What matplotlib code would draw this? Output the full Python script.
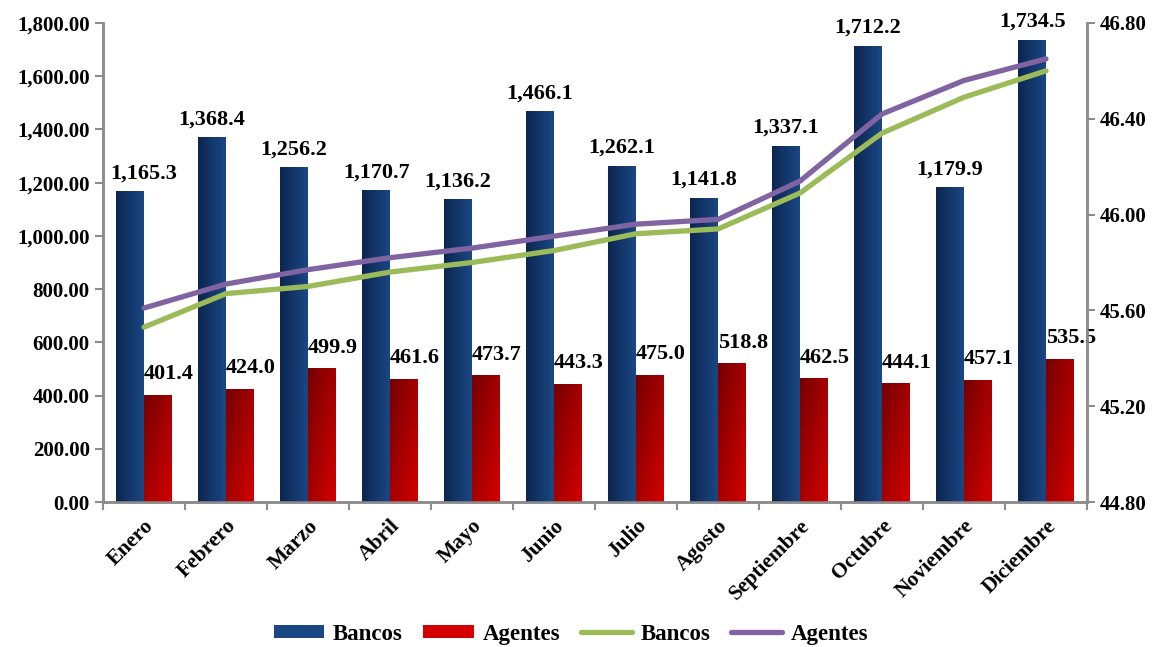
import numpy as np
import matplotlib
matplotlib.use('Agg')
import matplotlib.pyplot as plt
from matplotlib.lines import Line2D
from matplotlib.patches import Patch
from matplotlib.ticker import FuncFormatter

plt.rcParams['font.family'] = ['Liberation Serif', 'DejaVu Serif']
plt.rcParams['font.weight'] = 'bold'

meses = ['Enero', 'Febrero', 'Marzo', 'Abril', 'Mayo', 'Junio', 'Julio',
         'Agosto', 'Septiembre', 'Octubre', 'Noviembre', 'Diciembre']
bancos_barras = [1165.3, 1368.4, 1256.2, 1170.7, 1136.2, 1466.1, 1262.1,
                 1141.8, 1337.1, 1712.2, 1179.9, 1734.5]
agentes_barras = [401.4, 424.0, 499.9, 461.6, 473.7, 443.3, 475.0,
                  518.8, 462.5, 444.1, 457.1, 535.5]
# eje secundario (lineas)
bancos_linea = [45.53, 45.67, 45.70, 45.76, 45.80, 45.85, 45.92,
                45.94, 46.09, 46.34, 46.49, 46.60]
agentes_linea = [45.61, 45.71, 45.77, 45.82, 45.86, 45.91, 45.96,
                 45.98, 46.14, 46.42, 46.56, 46.65]

AZUL_OSC, AZUL_CLARO = '#0c2650', '#1a4784'
ROJO_OSC, ROJO_CLARO = '#750000', '#d40000'
VERDE = '#9bbb59'
MORADO = '#8064a2'
GRIS = '#8c8c8c'

fig, ax = plt.subplots(figsize=(11.58, 6.47), dpi=100)
fig.subplots_adjust(left=0.089, right=0.9387, bottom=0.2241, top=0.9645)

x = np.arange(len(meses))
w = 0.34
b1 = ax.bar(x - w / 2, bancos_barras, w, color=AZUL_CLARO, zorder=2)
b2 = ax.bar(x + w / 2, agentes_barras, w, color=ROJO_CLARO, zorder=2)


def degradado(c1, c2, diagonal=False):
    c1 = np.array(matplotlib.colors.to_rgb(c1))
    c2 = np.array(matplotlib.colors.to_rgb(c2))
    gx = np.linspace(0, 1, 64)
    if diagonal:
        gy = np.linspace(0, 1, 64)  # fila 0 = arriba (oscuro)
        t = (gx[None, :] + gy[:, None]) / 2
    else:
        t = np.tile(gx, (64, 1))
    return c1[None, None, :] * (1 - t[..., None]) + c2[None, None, :] * t[..., None]


img_azul = degradado(AZUL_OSC, AZUL_CLARO)
img_rojo = degradado(ROJO_OSC, ROJO_CLARO, diagonal=True)
for bars, img in ((b1, img_azul), (b2, img_rojo)):
    for r in bars:
        x0, y0 = r.get_x(), r.get_y()
        ax.imshow(img, extent=(x0, x0 + r.get_width(), y0, y0 + r.get_height()),
                  aspect='auto', origin='upper', zorder=3)

# etiquetas de datos
for i, (r, v) in enumerate(zip(b1, bancos_barras)):
    xc = r.get_x() + r.get_width() / 2
    dx = 0
    if i == 0:
        dx = 10  # Excel la separa del eje
    ax.annotate(f'{v:,.1f}', (xc, r.get_height()),
                xytext=(dx, 6), textcoords='offset points', ha='center',
                va='bottom', fontsize=16, fontweight='bold', zorder=5)
for r, v in zip(b2, agentes_barras):
    ax.annotate(f'{v:,.1f}', (r.get_x() + r.get_width() / 2, r.get_height()),
                xytext=(8, 8), textcoords='offset points', ha='center',
                va='bottom', fontsize=16, fontweight='bold', zorder=5)

ax.set_xlim(-0.5, len(meses) - 0.5)
ax.set_ylim(0, 1800)
ax.set_yticks(np.arange(0, 1801, 200))
ax.yaxis.set_major_formatter(FuncFormatter(lambda v, p: f'{v:,.2f}'))
ax.set_xticks(np.arange(-0.5, len(meses), 1))
ax.set_xticklabels([])
ax.set_xticks(x, minor=True)
ax.set_xticklabels(meses, minor=True, rotation=45, ha='right',
                   rotation_mode='anchor', fontsize=15.5, fontweight='bold')
ax.tick_params(axis='x', which='minor', length=0, pad=10)
ax.tick_params(axis='x', which='major', length=6, width=1.5, color=GRIS)
ax.tick_params(axis='y', length=6, width=1.5, color=GRIS, labelsize=15)

ax2 = ax.twinx()
ax2.plot(x, bancos_linea, color=VERDE, lw=3.8, solid_capstyle='round')
ax2.plot(x, agentes_linea, color=MORADO, lw=3.8, solid_capstyle='round')
ax2.set_ylim(44.8, 46.8)
ax2.set_yticks(np.arange(44.8, 46.81, 0.4))
ax2.yaxis.set_major_formatter(FuncFormatter(lambda v, p: f'{v:.2f}'))
ax2.tick_params(axis='y', length=6, width=1.5, color=GRIS, labelsize=15)

for a in (ax, ax2):
    a.spines['top'].set_visible(False)
    for s in ('left', 'right', 'bottom'):
        a.spines[s].set_color(GRIS)
        a.spines[s].set_linewidth(1.8)
    for lab in a.get_yticklabels():
        lab.set_fontweight('bold')

handles = [Patch(facecolor=AZUL_CLARO), Patch(facecolor=ROJO_CLARO),
           Line2D([], [], color=VERDE, lw=3.8, solid_capstyle='round'),
           Line2D([], [], color=MORADO, lw=3.8, solid_capstyle='round')]
fig.legend(handles, ['Bancos', 'Agentes', 'Bancos', 'Agentes'], ncol=4,
           loc='center', bbox_to_anchor=(0.493, 0.02), frameon=False,
           prop={'size': 16.5, 'weight': 'bold'}, handlelength=2.2,
           handleheight=0.5, columnspacing=0.9, handletextpad=0.4)

fig.savefig('out.png', dpi=100)
